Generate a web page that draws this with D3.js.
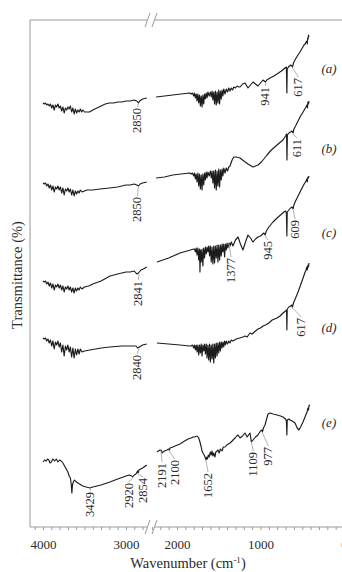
<!DOCTYPE html>
<html>
<head>
<meta charset="utf-8">
<script src="https://cdn.jsdelivr.net/npm/d3@7"></script>
<style>
body { margin: 0; background: #fff; }
text { font-family: "Liberation Serif", "DejaVu Serif", serif; fill: #2a2a2a; }
</style>
</head>
<body>
<svg id="chart" width="342" height="572"></svg>
<script>
// FTIR spectra, stacked (arbitrary transmittance units), wavenumber in cm-1
var specA = [
  [4000,424],[3985,423],[3970,424],[3955,422],[3940,423],[3925,421],[3910,423],[3895,419],[3880,422],[3865,417],
  [3850,422],[3835,420],[3820,423],[3805,419],[3790,421],[3775,416],[3760,420],[3745,414],[3730,419],[3715,417],
  [3700,420],[3685,418],[3670,421],[3655,415],[3640,419],[3625,413],[3610,418],[3595,414],[3580,417],[3565,415],
  [3550,418],[3535,415],[3520,417],[3500,415],[3470,415],[3440,415],[3400,417],[3350,419],[3300,421],[3250,423],
  [3200,424],[3150,424],[3100,425],[3050,425],[3000,426],[2950,426],[2900,427],[2870,426],[2850,424],[2835,426],
  [2800,428],[2750,429],
  [2250,430],[2150,431],[2050,432],[1950,433],[1850,434],[1830,433],[1815,434],[1800,431],[1790,434],[1780,429],
  [1770,433],[1760,426],[1750,433],[1740,424],[1730,432],[1720,421],[1710,431],[1700,420],[1690,432],[1680,423],
  [1670,433],[1660,428],[1650,434],[1640,429],[1630,435],[1615,431],[1600,435],[1590,430],[1580,436],[1570,427],
  [1560,435],[1550,423],[1540,436],[1530,422],[1520,435],[1510,424],[1500,437],[1490,423],[1480,436],[1470,428],
  [1460,437],[1450,431],[1440,438],[1425,433],[1410,438],[1395,435],[1380,439],[1365,436],[1350,439],[1335,437],
  [1320,440],[1300,439],[1280,441],[1260,440],[1245,440],[1215,443],[1185,444],[1150,439],[1120,442],[1090,445],
  [1060,443],[1030,441],[1000,444],[970,447],[955,446],[941,445],[925,447],[886,449],[840,451],[802,453],
  [750,456],[707,459],[690,460],[684,434],[680,458],[665,460],[640,462],[625,461],[617,460],[605,464],
  [587,467],[560,471],[527,475],[500,479],[479,482],[465,483],[455,485],[445,486],[440,483],[435,489],
  [430,488],[425,492],[420,490]
];
var specB = [
  [4000,344],[3985,343],[3970,344],[3955,341],[3940,343],[3925,339],[3910,342],[3895,337],[3880,341],[3865,335],
  [3850,340],[3835,338],[3820,341],[3805,337],[3790,340],[3775,334],[3760,339],[3745,332],[3730,338],[3715,336],
  [3700,339],[3685,335],[3670,338],[3655,332],[3640,337],[3625,331],[3610,336],[3595,333],[3580,336],[3565,334],
  [3550,337],[3530,335],[3500,336],[3470,337],[3400,337],[3313,338],[3200,339],[3100,340],[3000,342],[2950,342],
  [2900,343],[2870,342],[2850,341],[2830,343],[2800,344],[2750,345],
  [2250,349],[2150,350],[2050,352],[1950,353],[1850,354],[1830,353],[1815,354],[1800,351],[1790,354],[1780,348],
  [1770,353],[1760,345],[1750,354],[1740,341],[1730,353],[1720,338],[1710,352],[1700,337],[1690,353],[1680,342],
  [1670,354],[1660,347],[1650,355],[1640,349],[1630,355],[1615,351],[1600,356],[1590,349],[1580,356],[1570,344],
  [1560,356],[1550,339],[1540,357],[1530,337],[1520,356],[1510,341],[1500,358],[1490,340],[1480,357],[1470,347],
  [1460,358],[1450,351],[1440,359],[1425,354],[1410,359],[1395,356],[1380,360],[1365,361],[1340,367],[1320,370],
  [1290,370],[1245,369],[1200,366],[1150,363],[1090,360],[1060,361],[1030,362],[990,365],[960,368],[922,372],
  [870,377],[802,382],[760,385],[731,387],[700,391],[688,393],[683,367],[678,392],[660,394],[640,395],
  [625,396],[611,394],[600,398],[580,401],[550,406],[520,411],[490,415],[470,418],[455,420],[445,422],
  [438,419],[432,425],[425,423],[420,426]
];
var specC = [
  [4000,246],[3985,245],[3970,246],[3955,243],[3940,245],[3925,241],[3910,244],[3895,239],[3880,243],[3865,237],
  [3850,242],[3835,240],[3820,243],[3805,239],[3790,242],[3775,237],[3760,241],[3745,235],[3730,240],[3715,238],
  [3700,241],[3685,237],[3670,240],[3655,235],[3640,239],[3625,234],[3610,239],[3595,236],[3580,239],[3565,237],
  [3550,240],[3530,238],[3500,240],[3450,241],[3400,243],[3300,246],[3193,251],[3100,253],[3000,255],[2950,255],
  [2900,256],[2870,253],[2850,254],[2820,257],[2790,258],[2750,260],
  [2240,265],[2100,269],[1964,274],[1880,276],[1800,278],[1790,278],[1780,275],[1770,279],[1760,272],[1750,279],
  [1740,267],[1730,278],[1725,255],[1718,277],[1710,265],[1700,278],[1690,261],[1680,279],[1670,269],[1660,280],
  [1650,273],[1640,280],[1630,275],[1620,281],[1610,271],[1600,281],[1590,265],[1580,280],[1570,263],[1560,281],
  [1550,264],[1540,281],[1530,269],[1520,282],[1510,265],[1500,282],[1490,267],[1480,282],[1470,271],[1460,283],
  [1450,275],[1440,283],[1430,270],[1420,283],[1410,277],[1400,284],[1390,279],[1377,284],[1365,281],[1350,285],
  [1330,281],[1300,287],[1269,290],[1240,283],[1210,277],[1180,285],[1150,292],[1120,289],[1090,285],[1060,288],
  [1030,290],[1000,291],[960,294],[945,292],[930,296],[900,300],[850,305],[802,309],[760,312],[720,315],
  [700,316],[690,314],[684,291],[680,315],[660,317],[640,319],[620,320],[609,318],[600,322],[580,326],
  [550,331],[520,336],[490,341],[470,344],[455,346],[445,348],[440,345],[432,350],[425,349],[420,351]
];
var specD = [
  [4000,189],[3985,188],[3970,189],[3955,186],[3940,188],[3925,184],[3910,187],[3895,181],[3880,186],[3865,178],
  [3850,185],[3835,182],[3820,186],[3805,180],[3790,184],[3775,175],[3760,182],[3745,171],[3730,181],[3715,177],
  [3700,182],[3685,175],[3670,180],[3655,170],[3640,179],[3625,169],[3610,178],[3595,172],[3580,178],[3565,173],
  [3550,178],[3530,175],[3500,176],[3434,177],[3300,179],[3193,180],[3050,181],[2950,181],[2880,181],[2860,179],
  [2840,180],[2800,182],[2750,183],
  [2240,184],[2100,183],[1964,182],[1850,181],[1830,181],[1815,182],[1800,179],[1790,182],[1780,177],[1770,182],
  [1760,175],[1750,182],[1740,172],[1730,182],[1720,174],[1710,183],[1700,171],[1690,182],[1680,176],[1670,183],
  [1660,173],[1650,183],[1640,169],[1630,182],[1620,167],[1610,183],[1600,165],[1590,182],[1580,168],[1570,183],
  [1560,164],[1550,183],[1540,169],[1530,184],[1520,171],[1510,184],[1500,174],[1490,185],[1480,176],[1470,185],
  [1460,179],[1450,185],[1440,180],[1430,186],[1420,182],[1410,186],[1395,183],[1380,186],[1365,184],[1350,187],
  [1330,186],[1290,188],[1250,189],[1210,190],[1186,191],[1160,190],[1126,194],[1100,193],[1060,196],[1030,198],
  [1000,199],[970,201],[940,202],[900,204],[860,207],[802,209],[766,211],[730,214],[700,216],[688,217],
  [684,197],[680,218],[660,220],[640,221],[625,222],[617,220],[605,224],[580,229],[550,235],[520,242],
  [490,249],[470,254],[455,257],[445,260],[440,257],[432,262],[425,260],[420,264]
];
var specE = [
  [4000,65],[3980,67],[3960,66],[3945,68],[3930,67],[3915,64],[3900,65],[3880,68],[3860,66],[3840,68],
  [3820,65],[3800,67],[3780,66],[3760,64],[3740,61],[3720,58],[3700,55],[3685,51],[3670,49],[3660,43],
  [3652,34],[3645,42],[3635,45],[3620,47],[3600,45],[3560,43],[3520,41],[3480,40],[3434,39],[3400,40],
  [3300,42],[3193,45],[3100,48],[3000,51],[2960,52],[2930,51],[2920,50],[2900,52],[2880,53],[2860,56],
  [2854,54],[2845,57],[2800,59],[2750,62],
  [2240,75],[2204,77],[2191,77],[2180,74],[2168,75],[2150,76],[2120,77],[2100,78],[2090,77],[2084,79],
  [2050,80],[2024,81],[1964,83],[1928,85],[1868,88],[1830,89],[1808,90],[1790,90],[1760,91],[1740,89],
  [1725,85],[1710,80],[1700,76],[1689,74],[1675,72],[1660,69],[1652,67],[1645,70],[1635,68],[1625,72],
  [1615,70],[1600,75],[1590,72],[1581,76],[1570,71],[1560,74],[1545,70],[1535,75],[1520,76],[1509,77],
  [1495,74],[1480,78],[1461,76],[1445,80],[1425,80],[1405,82],[1385,83],[1365,84],[1340,86],[1305,89],
  [1285,91],[1269,92],[1245,89],[1215,91],[1186,94],[1160,90],[1126,94],[1109,85],[1090,87],[1060,90],
  [1030,92],[1000,96],[982,97],[977,95],[965,99],[946,102],[930,107],[910,113],[886,114],[850,113],
  [802,112],[760,111],[731,110],[700,108],[690,106],[684,92],[680,107],[660,108],[647,107],[620,106],
  [587,104],[560,99],[539,97],[520,100],[491,105],[467,110],[443,115],[431,119],[425,117],[418,122],[410,121]
];
var spectra = [specA, specB, specC, specD, specE];
var seriesTags = ["(a)", "(b)", "(c)", "(d)", "(e)"];

// annotated band positions: s = spectrum index
var peaks = [
  {s:0, wn:2850}, {s:0, wn:941}, {s:0, wn:617},
  {s:1, wn:2850}, {s:1, wn:611},
  {s:2, wn:2841}, {s:2, wn:1377}, {s:2, wn:945}, {s:2, wn:609},
  {s:3, wn:2840}, {s:3, wn:617},
  {s:4, wn:3429}, {s:4, wn:2920}, {s:4, wn:2854}, {s:4, wn:2191}, {s:4, wn:2100},
  {s:4, wn:1652}, {s:4, wn:1109}, {s:4, wn:977}
];
var xTickLabelsLeft = [4000, 3000];
var xTickLabelsRight = [2000, 1000, 0];

// ---- layout ----
var breakAt = 2500;
// label nudges [dx, gap below curve] in px
var peakNudge = [
  [-1,5],[0,5],[6,11],
  [-1,11],[4,6],
  [-1,8],[2,15],[3,6],[2,11],
  [-2,8],[9,11],
  [0,4],[-4,6],[5,5],[1,13],[6,11],
  [2,13],[2,10],[6,15]
];
var tagLevel = [459, 379, 295, 200, 105];

var svg = d3.select("#chart");
var plotLeft = 30, plotTop = 20, plotBottom = 527, plotRight = 360;

var xL = d3.scaleLinear().domain([4000, 3000]).range([43, 126]);
var xR = d3.scaleLinear().domain([2000, 0]).range([177, 344]);
var y = d3.scaleLinear().domain([0, 507]).range([plotBottom, plotTop]);

function xw(w) { return w > breakAt ? xL(w) : xR(w); }

var gapL = 147, gapR = 155;

// frame
var frame = svg.append("g").attr("stroke", "#9a9a9a").attr("stroke-width", 1).attr("fill", "none");
frame.append("line").attr("x1", plotLeft).attr("x2", plotLeft).attr("y1", plotTop).attr("y2", plotBottom);
[plotTop, plotBottom].forEach(function(yy) {
  frame.append("line").attr("x1", plotLeft).attr("x2", gapL).attr("y1", yy).attr("y2", yy);
  frame.append("line").attr("x1", gapR).attr("x2", plotRight).attr("y1", yy).attr("y2", yy);
  frame.append("line").attr("x1", gapL - 2).attr("x2", gapL + 3).attr("y1", yy + 7).attr("y2", yy - 7);
  frame.append("line").attr("x1", gapR - 3).attr("x2", gapR + 2).attr("y1", yy + 7).attr("y2", yy - 7);
});

// x axes (two segments), labels only at the thousands
var fmt = function(d) {
  return (xTickLabelsLeft.indexOf(d) >= 0 || xTickLabelsRight.indexOf(d) >= 0) ? d : "";
};
var axL = svg.append("g").attr("transform", "translate(0," + plotBottom + ")")
  .call(d3.axisBottom(xL).tickValues(d3.range(4100, 2750, -100)).tickSize(3).tickPadding(10).tickFormat(fmt));
var axR = svg.append("g").attr("transform", "translate(0," + plotBottom + ")")
  .call(d3.axisBottom(xR).tickValues(d3.range(2300, -100, -100)).tickSize(3).tickPadding(10).tickFormat(fmt));
[axL, axR].forEach(function(ax) {
  ax.select(".domain").remove();
  ax.selectAll(".tick line").attr("stroke", "#9a9a9a");
  ax.selectAll(".tick text").attr("font-size", 13).attr("fill", "#2a2a2a")
    .attr("font-family", "Liberation Serif, serif");
});

// axis titles
var xt = svg.append("text").attr("x", 188).attr("y", 568).attr("text-anchor", "middle").attr("font-size", 14.5);
xt.append("tspan").text("Wavenumber (cm");
xt.append("tspan").attr("dy", -5).attr("font-size", 9).text("-1");
xt.append("tspan").attr("dy", 5).text(")");

svg.append("text").attr("transform", "translate(17,275) rotate(-90)")
  .attr("text-anchor", "middle").attr("dominant-baseline", "central")
  .attr("font-size", 14.5).text("Transmittance (%)");

// spectra
var line = d3.line().x(function(d) { return xw(d[0]); }).y(function(d) { return y(d[1]); });
spectra.forEach(function(sp, i) {
  var g = svg.append("g").attr("fill", "none").attr("stroke", "#1c1c1c").attr("stroke-width", 1.15)
    .attr("stroke-linejoin", "round");
  g.append("path").attr("d", line(sp.filter(function(d) { return d[0] > breakAt; })));
  g.append("path").attr("d", line(sp.filter(function(d) { return d[0] <= breakAt; })));
  svg.append("text").attr("x", 329).attr("y", y(tagLevel[i]))
    .attr("text-anchor", "middle").attr("dominant-baseline", "central")
    .attr("font-style", "italic").attr("font-size", 13).text(seriesTags[i]);
});

// peak labels with leader lines
peaks.forEach(function(p, i) {
  var pt = d3.least(spectra[p.s], function(d) { return Math.abs(d[0] - p.wn); });
  var px = xw(p.wn), py = y(pt[1]);
  var tx = px + peakNudge[i][0], ty = py + peakNudge[i][1];
  svg.append("line").attr("x1", px).attr("y1", py + 1).attr("x2", tx).attr("y2", ty - 1)
    .attr("stroke", "#a8a8a8").attr("stroke-width", 0.9);
  svg.append("text").attr("transform", "translate(" + tx + "," + ty + ") rotate(-90)")
    .attr("text-anchor", "end").attr("dominant-baseline", "central")
    .attr("font-size", 12.5).text(p.wn);
});
</script>
</body>
</html>
